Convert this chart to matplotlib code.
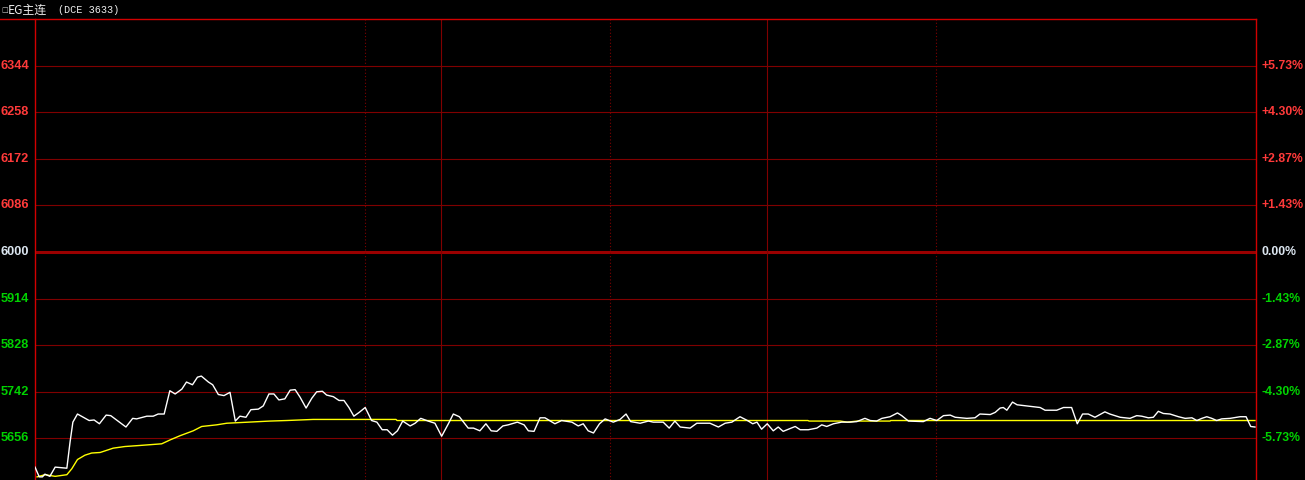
import matplotlib
matplotlib.use("Agg")
import matplotlib.pyplot as plt
from matplotlib.lines import Line2D

# ---------------- data ----------------
title = "EG主连"
subtitle = "(DCE 3633)"
base_price = 6000
price_ticks = [6344, 6258, 6172, 6086, 6000, 5914, 5828, 5742, 5656]

# minutes from session start
price_minutes = [0.0, 1.2, 2.1, 2.8, 4.2, 5.7, 9.0, 9.9, 10.7, 12.0, 15.3, 16.7, 18.2, 20.1, 21.4,
                 25.7, 27.6, 28.7, 31.6, 33.4, 34.8, 36.5, 38.1, 39.6, 41.5, 42.8, 44.5, 45.9, 47.0,
                 49.0, 50.2, 51.8, 53.4, 55.1, 56.6, 57.9, 59.6, 61.0, 63.1, 64.5, 66.1, 67.5, 68.9,
                 70.6, 72.1, 73.5, 74.9, 76.6, 78.2, 79.6, 81.2, 82.4, 84.3, 85.9, 87.3, 88.7, 90.1,
                 91.6, 93.3, 95.1, 96.6, 98.1, 99.5, 101.0, 102.4, 103.9, 106.0, 107.4, 109.0, 111.1,
                 113.0, 114.9, 116.8, 118.2, 119.9, 122.4, 123.9, 125.7, 127.4, 128.9, 130.5, 132.2,
                 133.7, 136.3, 138.2, 139.4, 141.0, 142.7, 144.1, 146.9, 148.8, 151.7, 153.5, 154.9,
                 156.3, 157.8, 159.5, 161.1, 163.4, 165.3, 167.0, 168.3, 171.0, 173.3, 174.7, 177.5,
                 179.2, 180.8, 182.3, 185.1, 187.0, 190.7, 193.1, 195.0, 196.9, 199.2, 201.3, 202.8,
                 204.0, 205.3, 206.9, 208.6, 210.0, 211.4, 212.9, 214.8, 216.2, 218.5, 220.9, 222.3,
                 223.7, 225.6, 227.9, 230.3, 232.2, 234.5, 236.0, 237.8, 239.3, 241.6, 243.7, 244.9,
                 246.8, 251.0, 252.9, 254.8, 256.7, 258.6, 260.0, 263.3, 265.6, 267.0, 269.9, 271.3,
                 272.7, 273.6, 274.6, 276.2, 277.5, 280.2, 281.6, 284.0, 285.4, 288.7, 290.6, 292.9,
                 294.5, 296.0, 297.6, 299.5, 300.9, 302.3, 303.7, 306.6, 309.4, 311.3, 312.7, 314.6,
                 316.0, 317.4, 318.8, 320.7, 323.1, 325.0, 326.9, 328.3, 329.7, 331.1, 332.5, 333.9,
                 335.3, 337.7, 340.5, 342.2, 343.5, 344.7]
price = [5603, 5585, 5585, 5590, 5586, 5603, 5601, 5649, 5686, 5701, 5689, 5690, 5683, 5699, 5698,
         5677, 5693, 5692, 5697, 5697, 5701, 5701, 5744, 5738, 5747, 5760, 5755, 5769, 5771,
         5760, 5755, 5737, 5735, 5741, 5688, 5697, 5695, 5709, 5710, 5716, 5738, 5738, 5727,
         5729, 5745, 5746, 5732, 5712, 5730, 5742, 5743, 5736, 5733, 5726, 5726, 5713, 5697,
         5704, 5713, 5689, 5686, 5672, 5672, 5662, 5670, 5688, 5679, 5684, 5693, 5688,
         5684, 5660, 5683, 5701, 5696, 5675, 5675, 5670, 5683, 5670, 5669, 5679,
         5681, 5686, 5681, 5670, 5669, 5694, 5694, 5683, 5689, 5686, 5679, 5683,
         5670, 5666, 5683, 5692, 5686, 5691, 5701, 5687, 5684, 5688, 5686, 5686,
         5675, 5688, 5677, 5675, 5684, 5684, 5677, 5684, 5686, 5696, 5689, 5683,
         5686, 5673, 5683, 5670, 5677, 5669, 5673, 5678, 5672, 5672, 5675, 5681,
         5678, 5683, 5686, 5686, 5687, 5693, 5689, 5688, 5693, 5696, 5703, 5698,
         5688, 5687, 5693, 5689, 5698, 5699, 5695, 5693, 5694, 5701, 5700, 5704,
         5712, 5713, 5708, 5723, 5718, 5716, 5715, 5713, 5708, 5708, 5713, 5713,
         5683, 5701, 5701, 5695, 5700, 5705, 5701, 5695, 5693, 5698, 5697, 5694,
         5695, 5706, 5702, 5701, 5696, 5693, 5694, 5689, 5693, 5696, 5693, 5689,
         5692, 5693, 5696, 5696, 5678, 5677]

avg_minutes = [0.6, 2.8, 5.7, 9.0, 10.4, 12.0, 14.1, 16.0, 18.4, 22.1, 25.4, 29.7, 35.8, 38.1,
               41.0, 44.7, 47.1, 51.3, 54.2, 60.3, 66.4, 71.1, 78.6, 102.0, 102.3, 218.4, 218.7,
               227.5, 229.5, 232.3, 241.6, 241.8, 344.7]
avg_price = [5585, 5589, 5586, 5589, 5600, 5617, 5625, 5629, 5630, 5638, 5641, 5643, 5646, 5653,
             5661, 5670, 5678, 5681, 5684, 5686, 5688, 5689, 5691, 5691, 5689, 5689, 5688,
             5688, 5686, 5688, 5688, 5689, 5689]

session_minutes = 345
dotted_dividers = [93.2, 162.5, 254.6]
solid_dividers = [114.7, 206.8]

# ---------------- style ----------------
BG = "#000000"
GRID = "#800000"
BORDER = "#D20000"
UP = "#FF3A3A"
DOWN = "#00D200"
FLAT = "#DCE6F0"

W, H = 1305, 480
fig = plt.figure(figsize=(W / 100, H / 100), dpi=100, facecolor=BG)
left_px, right_px, top_px = 35, 1256, 19
ax = fig.add_axes([left_px / W, 0, (right_px - left_px) / W, 1 - top_px / H])
ax.set_facecolor(BG)

ppp = 86 / 46.6  # price per pixel
y_top = base_price + (252 - top_px) * ppp
y_bot = base_price - (H - 252) * ppp
ax.set_ylim(y_bot, y_top)
ax.set_xlim(0, session_minutes)

for t in price_ticks:
    if t == base_price:
        ax.axhline(t, color="#9A0000", lw=2.2, zorder=1)
    else:
        ax.axhline(t, color=GRID, lw=0.8, zorder=1)
for d in dotted_dividers:
    ax.axvline(d, color=GRID, lw=0.8, ls=(0, (1, 2)), zorder=1)
for d in solid_dividers:
    ax.axvline(d, color=GRID, lw=0.8, zorder=1)

ax.plot(avg_minutes, avg_price, color="#FFFF00", lw=1.0, zorder=3)
ax.plot(price_minutes, price, color="#FFFFFF", lw=1.0, zorder=4)

ax.set_xticks([])
ax.set_yticks([])
for s in ["left", "right"]:
    ax.spines[s].set_color(BORDER)
    ax.spines[s].set_linewidth(1.0)
ax.spines["top"].set_visible(False)
ax.spines["bottom"].set_visible(False)

# top border across full width
fig.add_artist(Line2D([0, right_px / W], [1 - top_px / H, 1 - top_px / H],
                      transform=fig.transFigure, color=BORDER, lw=1.0))

# axis labels
trans = ax.get_yaxis_transform()
for t in price_ticks:
    col = UP if t > base_price else (DOWN if t < base_price else FLAT)
    pct = (t - base_price) / base_price * 100
    ax.text(-6 / (right_px - left_px), t, f"{t}", transform=trans, ha="right", va="center",
            color=col, fontsize=9.2, fontweight="bold", family="Liberation Sans")
    lab = f"{pct:+.2f}%" if t != base_price else "0.00%"
    ax.text(1 + 6 / (right_px - left_px), t, lab, transform=trans, ha="left", va="center",
            color=col, fontsize=8.8, fontweight="bold", family="Liberation Sans")

# title
fig.text(1 / W, 1 - 10 / H, "□", color="#C8C8C8", fontsize=5, va="center", ha="left",
         family="DejaVu Sans")
fig.text(8 / W, 1 - 10 / H, title, color="#EEEEEE", fontsize=8.6,
         va="center", ha="left", family=["Noto Sans CJK SC", "DejaVu Sans"])
fig.text(58 / W, 1 - 10 / H, subtitle, color="#EEEEEE", fontsize=7.3,
         va="center", ha="left", family="Liberation Mono")

fig.savefig("out.png", dpi=100, facecolor=BG)
